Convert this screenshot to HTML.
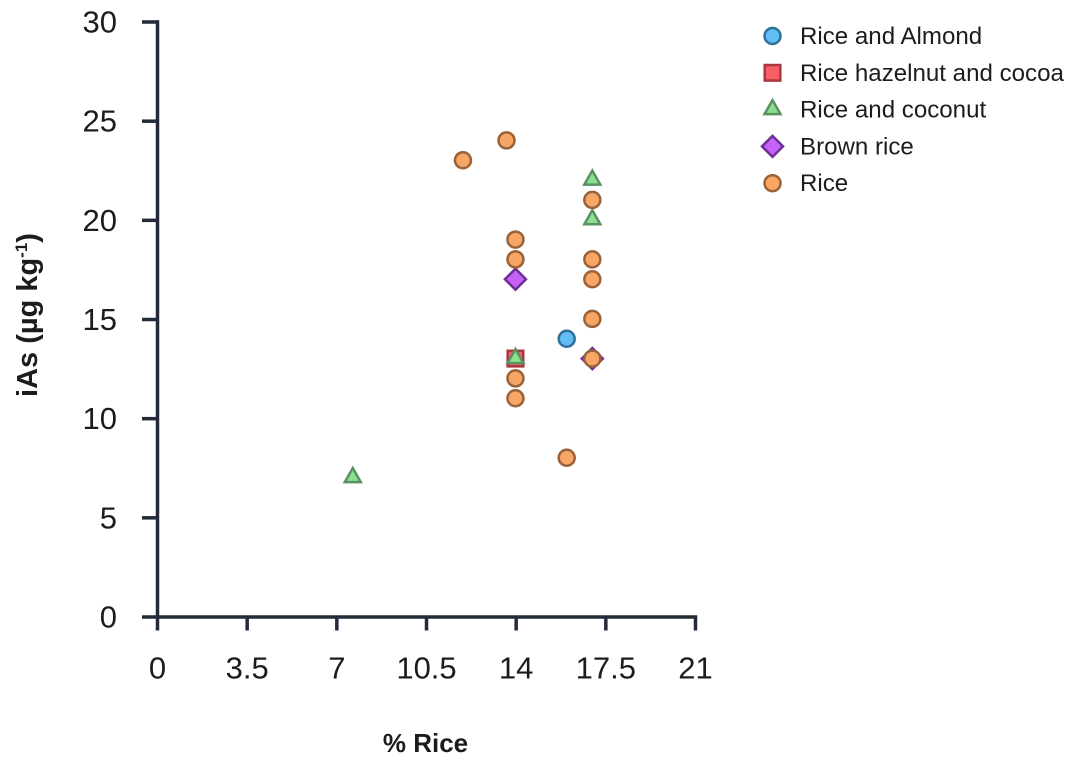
<!DOCTYPE html>
<html>
<head>
<meta charset="utf-8">
<style>
html,body{margin:0;padding:0;background:#fff;width:1074px;height:762px;overflow:hidden}
svg{display:block}
text{font-family:"Liberation Sans",sans-serif;fill:#1c1c1e}
</style>
</head>
<body>
<svg id="chart" width="1074" height="762" viewBox="0 0 1074 762" xmlns="http://www.w3.org/2000/svg"></svg>
<script>
const xTicks = [0, 3.5, 7, 10.5, 14, 17.5, 21];
const yTicks = [0, 5, 10, 15, 20, 25, 30];
const seriesNames = ["Rice and Almond", "Rice hazelnut and cocoa", "Rice and coconut", "Brown rice", "Rice"];
const almondX = [16];
const almondY = [14];
const hazelnutX = [14];
const hazelnutY = [13];
const coconutX = [7.65, 14, 17, 17];
const coconutY = [7, 13, 22, 20];
const brownX = [14, 17];
const brownY = [17, 13];
const riceX = [11.95, 13.65, 14, 14, 14, 14, 16, 17, 17, 17, 17, 17];
const riceY = [23, 24, 19, 18, 12, 11, 8, 21, 18, 17, 15, 13];

const NS = "http://www.w3.org/2000/svg";
const svg = document.getElementById("chart");
const X0 = 157.5, X1 = 695.5, Y0 = 617, Y1 = 22;
const xMax = 21, yMax = 30;
const markDX = -0.7, markDY = -0.6;
function sx(v){ return X0 + (v / xMax) * (X1 - X0); }
function sy(v){ return Y0 - (v / yMax) * (Y0 - Y1); }
function mk(tag, attrs, parent){
  const el = document.createElementNS(NS, tag);
  for (const k in attrs) el.setAttribute(k, attrs[k]);
  (parent || svg).appendChild(el);
  return el;
}
const AXIS = "#232b38";
const styles = [
  {shape:"circle", fill:"#62bdf4", stroke:"#2f7198"},
  {shape:"square", fill:"#f95d66", stroke:"#a8383f"},
  {shape:"triangle", fill:"#8ce08f", stroke:"#5a9062"},
  {shape:"diamond", fill:"#c662f5", stroke:"#6d2f96"},
  {shape:"circle", fill:"#f7a666", stroke:"#9a6238"}
];
function marker(s, cx, cy, parent){
  const a = {fill:s.fill, stroke:s.stroke, "stroke-width":2.5};
  if (s.shape === "circle") return mk("circle", Object.assign({cx:cx, cy:cy, r:8}, a), parent);
  if (s.shape === "square") return mk("rect", Object.assign({x:cx-7.8, y:cy-7.8, width:15.6, height:15.6}, a), parent);
  if (s.shape === "triangle") return mk("polygon", Object.assign({points:[cx,cy-9.5,cx+8,cy+4.5,cx-8,cy+4.5].join(" ")}, a), parent);
  return mk("polygon", Object.assign({points:[cx,cy-10.5,cx+10.5,cy,cx,cy+10.5,cx-10.5,cy].join(" ")}, a), parent);
}

/* axes */
const xAxis = mk("line", {x1:X0, y1:Y0, x2:X1+1.75, y2:Y0, stroke:AXIS, "stroke-width":3.5});


const yAxis = mk("line", {x1:X0, y1:Y1-1.75, x2:X0, y2:Y0, stroke:AXIS, "stroke-width":3.5});



xTicks.forEach(function(t){
  const tick = mk("line", {x1:sx(t), y1:Y0, x2:sx(t), y2:Y0+13.5, stroke:AXIS, "stroke-width":3.5});
  
  
  const lab = mk("text", {x:sx(t), y:678.5, "text-anchor":"middle", "font-size":"31"});
  
  
  lab.textContent = String(t);
});
yTicks.forEach(function(t){
  const tick = mk("line", {x1:X0-15.5, y1:sy(t), x2:X0, y2:sy(t), stroke:AXIS, "stroke-width":3.5});
  
  
  const lab = mk("text", {x:117, y:sy(t)+10.5, "text-anchor":"end", "font-size":"31"});
  
  
  lab.textContent = String(t);
});

/* axis titles */
const xTitle = mk("text", {x:425.5, y:752, "text-anchor":"middle", "font-size":"26", "font-weight":"700"});


xTitle.textContent = "% Rice";

const yTitle = mk("text", {transform:"translate(37,315) rotate(-90)", "text-anchor":"middle", "font-size":"29", "font-weight":"700"});


yTitle.appendChild(document.createTextNode("iAs (µg kg"));
const sup = mk("tspan", {dy:"-10", "font-size":"17"}, yTitle);
sup.textContent = "-1";
const close = mk("tspan", {dy:"10"}, yTitle);
close.textContent = ")";

/* points */
const seriesData = [[almondX, almondY], [hazelnutX, hazelnutY], [coconutX, coconutY], [brownX, brownY], [riceX, riceY]];
seriesData.forEach(function(d, i){
  const g = mk("g", {});
  
  
  d[0].forEach(function(x, j){
    const m = marker(styles[i], sx(x) + markDX, sy(d[1][j]) + markDY, g);
    
    
  });
});

/* legend */
const legend = mk("g", {});


seriesNames.forEach(function(name, i){
  const cy = 36 + i * 36.8;
  const m = marker(styles[i], 772.5, cy, legend);
  
  
  const t = mk("text", {x:800, y:cy+8, "font-size":"24.1"}, legend);
  
  
  t.textContent = name;
});
</script>
</body>
</html>
